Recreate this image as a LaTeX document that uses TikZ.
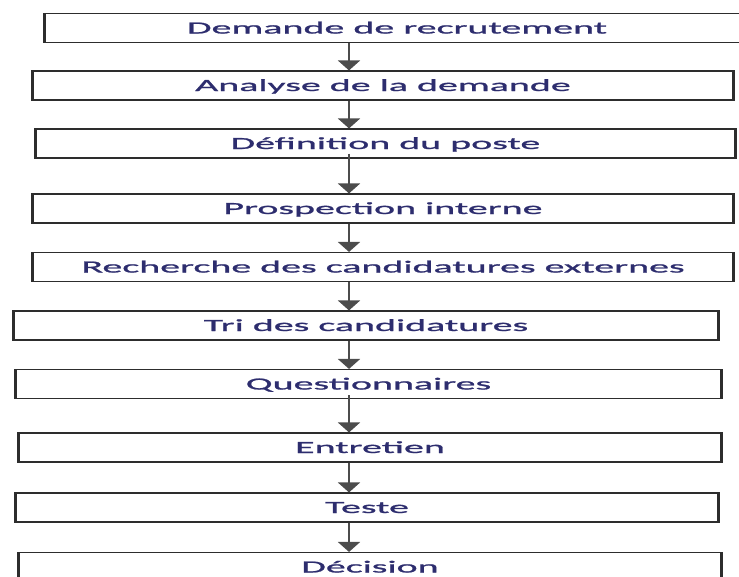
\documentclass[tikz,border=0pt]{standalone}
\usepackage{fontspec}
\newfontfamily\stagefont[FakeStretch=2.35,FakeBold=1.3]{Carlito}
\usetikzlibrary{arrows.meta}
\definecolor{stagetext}{RGB}{45,45,110}
\definecolor{stageline}{RGB}{45,45,45}

\begin{document}
\begin{tikzpicture}[x=1pt,y=-1pt]
\tikzstyle{size}=[minimum height=29pt,anchor=center,inner sep=0pt]

\tikzstyle{stage}=[size,rectangle,draw=stageline,line width=1.1pt,text=stagetext,text centered,
  text height=11pt,text depth=0pt,
  font=\stagefont\fontsize{17}{20}\selectfont,
  path picture={\fill[stageline] (path picture bounding box.north west) rectangle ([xshift=2.2pt]path picture bounding box.south west);
                \fill[stageline] (path picture bounding box.north east) rectangle ([xshift=-2.2pt]path picture bounding box.south east);}]
\tikzstyle{link}=[draw=stageline!85,line width=2pt,-{Triangle[width=22pt,length=10pt]}]

\useasboundingbox (0,0) rectangle (739,576);
\clip (0,0) rectangle (739,576);
\coordinate (axis) at (349,0);

\node [stage,minimum width=706pt] at (397,28) (demande)  {Demande de recrutement};
\node [stage,minimum width=702pt] at (383,85.5) (analyse)  {Analyse de la demande};
\node [stage,minimum width=701pt] at (385.5,143.5) (definition)  {Définition du poste};
\node [stage,minimum width=702pt] at (383,208.5) (prospection)  {Prospection interne};
\node [stage,minimum width=702pt] at (383,267) (recherche)  {Recherche des candidatures externes};
\node [stage,minimum width=706pt] at (366,325.5) (tri)  {Tri des candidatures};
\node [stage,minimum width=707pt] at (368.5,384) (questionnaires)  {Questionnaires};
\node [stage,minimum width=704pt] at (370,447.5) (entretien)  {Entretien};
\node [stage,minimum width=704pt] at (367,507.5) (teste)  {Teste};
\node [stage,minimum width=704pt] at (370,567) (decision)  {Décision};

\draw [link] (demande.south -| axis) -- (analyse.north -| axis);
\draw [link] (analyse.south -| axis) -- (definition.north -| axis);
\draw [link] ([yshift=5pt]definition.south -| axis) -- (prospection.north -| axis);
\draw [link] (prospection.south -| axis) -- (recherche.north -| axis);
\draw [link] (recherche.south -| axis) -- (tri.north -| axis);
\draw [link] (tri.south -| axis) -- (questionnaires.north -| axis);
\draw [link] ([yshift=4pt]questionnaires.south -| axis) -- (entretien.north -| axis);
\draw [link] (entretien.south -| axis) -- (teste.north -| axis);
\draw [link] (teste.south -| axis) -- (decision.north -| axis);
\end{tikzpicture}
\end{document}
